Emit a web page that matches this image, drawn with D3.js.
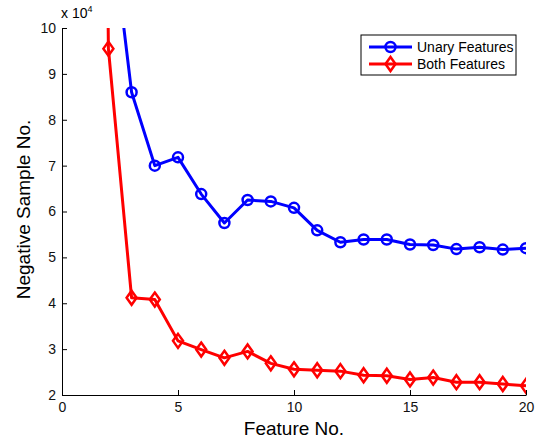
<!DOCTYPE html>
<html>
<head>
<meta charset="utf-8">
<script src="https://cdn.jsdelivr.net/npm/d3@7"></script>
<style>
body { margin: 0; background: #fff; }
text { font-family: "Liberation Sans", Arial, sans-serif; }
</style>
</head>
<body>
<script>
var w = 539,
    h = 438;

var margin = { top: 28, right: 13, bottom: 43, left: 62 };

var width = w - margin.left - margin.right,
    height = h - margin.top - margin.bottom;

// data (y values in units of 10^4)
var features = [1, 2, 3, 4, 5, 6, 7, 8, 9, 10, 11, 12, 13, 14, 15, 16, 17, 18, 19, 20];
var unary = [20.0, 12.8, 8.6, 7.0, 7.18, 6.38, 5.75, 6.25, 6.22, 6.08, 5.59, 5.33, 5.39, 5.39, 5.28, 5.27, 5.18, 5.22, 5.17, 5.2];
var both = [60.0, 9.55, 4.12, 4.08, 3.18, 2.99, 2.81, 2.95, 2.69, 2.56, 2.54, 2.52, 2.43, 2.42, 2.34, 2.38, 2.28, 2.28, 2.24, 2.2];
var xTicks = [0, 5, 10, 15, 20];
var yTicks = [2, 3, 4, 5, 6, 7, 8, 9, 10];
var seriesNames = ["Unary Features", "Both Features"];
var seriesColors = ["#0000ff", "#ff0000"];

var x = d3.scaleLinear().domain([0, 20]).range([0, width]);
var y = d3.scaleLinear().domain([2, 10]).range([height, 0]);

var svg = d3.select("body").append("svg")
    .attr("width", w)
    .attr("height", h);

var chart = svg.append("g")
    .attr("transform", "translate(" + margin.left + "," + margin.top + ")");

svg.append("defs").append("clipPath")
    .attr("id", "clip")
    .append("rect")
    .attr("width", width)
    .attr("height", height);

// axes, MATLAB style inward ticks
var xAxis = chart.append("g")
    .attr("transform", "translate(0," + height + ")")
    .call(d3.axisBottom(x).tickValues(xTicks).tickSize(-5).tickPadding(7).tickSizeOuter(0));

var yAxis = chart.append("g")
    .call(d3.axisLeft(y).tickValues(yTicks).tickSize(-5).tickPadding(6).tickSizeOuter(0));

[xAxis, yAxis].forEach(function(a) {
    a.select(".domain").attr("stroke", "#000").attr("stroke-width", 1);
    a.selectAll(".tick line").attr("stroke", "#000");
    a.selectAll(".tick text")
        .attr("font-size", 14)
        .attr("font-family", "Liberation Sans, Arial, sans-serif")
        .attr("fill", "#111");
});

chart.append("text")
    .attr("x", -1)
    .attr("y", -10)
    .attr("font-size", 14)
    .text("x 10")
    .append("tspan")
    .attr("dy", -6)
    .attr("font-size", 9)
    .text("4");

chart.append("text")
    .attr("x", width / 2)
    .attr("y", height + 40)
    .attr("text-anchor", "middle")
    .attr("font-size", 19)
    .text("Feature No.");

chart.append("text")
    .attr("transform", "rotate(-90)")
    .attr("x", -height / 2 + 2)
    .attr("y", -32)
    .attr("text-anchor", "middle")
    .attr("font-size", 19)
    .text("Negative Sample No.");

// lines
var line = d3.line()
    .x(function(d) { return x(d[0]); })
    .y(function(d) { return y(d[1]); });

var series = [unary, both].map(function(vals) {
    return vals.map(function(v, i) { return [features[i], v]; });
});

var plot = chart.append("g").attr("clip-path", "url(#clip)");

series.forEach(function(s, k) {
    plot.append("path")
        .datum(s)
        .attr("fill", "none")
        .attr("stroke", seriesColors[k])
        .attr("stroke-width", 3)
        .attr("stroke-linejoin", "round")
        .attr("d", line);
});

function diamond(g, cx, cy, color) {
    g.append("path")
        .attr("d", "M" + cx + "," + (cy - 7) + "L" + (cx + 5) + "," + cy + "L" + cx + "," + (cy + 7) + "L" + (cx - 5) + "," + cy + "Z")
        .attr("fill", "none")
        .attr("stroke", color)
        .attr("stroke-width", 2.5);
}

function circle(g, cx, cy, color) {
    g.append("circle")
        .attr("cx", cx)
        .attr("cy", cy)
        .attr("r", 5)
        .attr("fill", "none")
        .attr("stroke", color)
        .attr("stroke-width", 2.5);
}

series[0].forEach(function(d) {
    if (d[1] <= 10) circle(plot, x(d[0]), y(d[1]), seriesColors[0]);
});
series[1].forEach(function(d) {
    if (d[1] <= 10) diamond(plot, x(d[0]), y(d[1]), seriesColors[1]);
});

// legend
var legend = svg.append("g").attr("transform", "translate(361,35)");
legend.append("rect")
    .attr("width", 155)
    .attr("height", 40)
    .attr("fill", "#fff")
    .attr("stroke", "#000")
    .attr("stroke-width", 1);

seriesNames.forEach(function(name, k) {
    var ly = 12 + k * 17;
    legend.append("line")
        .attr("x1", 8).attr("x2", 51)
        .attr("y1", ly).attr("y2", ly)
        .attr("stroke", seriesColors[k])
        .attr("stroke-width", 3);
    if (k === 0) circle(legend, 29.5, ly, seriesColors[k]);
    else diamond(legend, 29.5, ly, seriesColors[k]);
    legend.append("text")
        .attr("x", 56)
        .attr("y", ly + 5)
        .attr("font-size", 14)
        .text(name);
});
</script>
</body>
</html>
